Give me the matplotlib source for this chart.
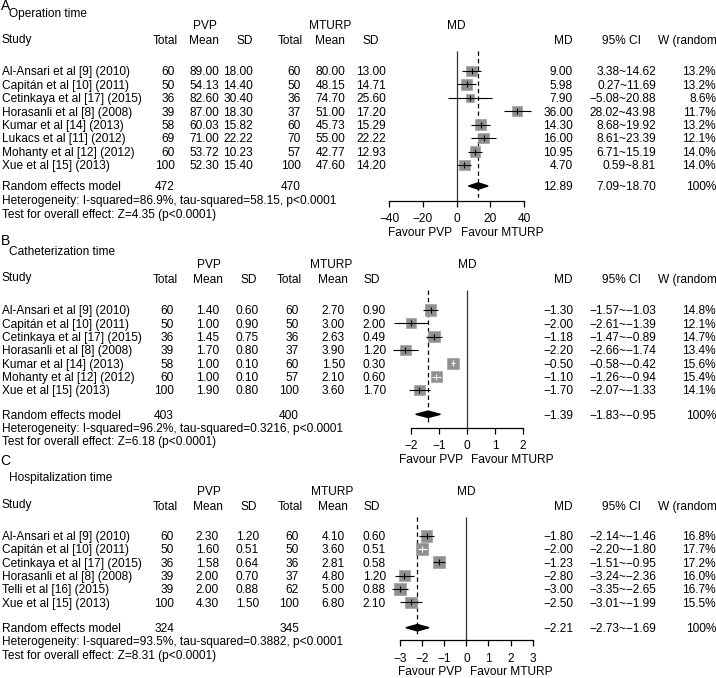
import numpy as np
import matplotlib
matplotlib.use("Agg")
import matplotlib.pyplot as plt

plt.rcParams['font.family'] = ['Liberation Sans', 'DejaVu Sans']
FS = 8.6

# ---------------- DATA ----------------
# Panel A: Operation time
A_title = "Operation time"
A_studies = ["Al-Ansari et al [9] (2010)", "Capitán et al [10] (2011)", "Cetinkaya et al [17] (2015)",
             "Horasanli et al [8] (2008)", "Kumar et al [14] (2013)", "Lukacs et al [11] (2012)",
             "Mohanty et al [12] (2012)", "Xue et al [15] (2013)"]
A_pvp_n = [60, 50, 36, 39, 58, 69, 60, 100]
A_pvp_mean = [89.00, 54.13, 82.60, 87.00, 60.03, 71.00, 53.72, 52.30]
A_pvp_sd = [18.00, 14.40, 30.40, 18.30, 15.82, 22.22, 10.23, 15.40]
A_mt_n = [60, 50, 36, 37, 60, 70, 57, 100]
A_mt_mean = [80.00, 48.15, 74.70, 51.00, 45.73, 55.00, 42.77, 47.60]
A_mt_sd = [13.00, 14.71, 25.60, 17.20, 15.29, 22.22, 12.93, 14.20]
A_md = [9.00, 5.98, 7.90, 36.00, 14.30, 16.00, 10.95, 4.70]
A_lo = [3.38, 0.27, -5.08, 28.02, 8.68, 8.61, 6.71, 0.59]
A_hi = [14.62, 11.69, 20.88, 43.98, 19.92, 23.39, 15.19, 8.81]
A_w = [13.2, 13.2, 8.6, 11.7, 13.2, 12.1, 14.0, 14.0]
A_sum = [12.89, 7.09, 18.70]
A_tot = [472, 470]
A_het = "Heterogeneity: I-squared=86.9%, tau-squared=58.15, p<0.0001"
A_test = "Test for overall effect: Z=4.35 (p<0.0001)"
A_ticks = [-40, -20, 0, 20, 40]

# Panel B: Catheterization time
B_title = "Catheterization time"
B_studies = ["Al-Ansari et al [9] (2010)", "Capitán et al [10] (2011)", "Cetinkaya et al [17] (2015)",
             "Horasanli et al [8] (2008)", "Kumar et al [14] (2013)", "Mohanty et al [12] (2012)",
             "Xue et al [15] (2013)"]
B_pvp_n = [60, 50, 36, 39, 58, 60, 100]
B_pvp_mean = [1.40, 1.00, 1.45, 1.70, 1.00, 1.00, 1.90]
B_pvp_sd = [0.60, 0.90, 0.75, 0.80, 0.10, 0.10, 0.80]
B_mt_n = [60, 50, 36, 37, 60, 57, 100]
B_mt_mean = [2.70, 3.00, 2.63, 3.90, 1.50, 2.10, 3.60]
B_mt_sd = [0.90, 2.00, 0.49, 1.20, 0.30, 0.60, 1.70]
B_md = [-1.30, -2.00, -1.18, -2.20, -0.50, -1.10, -1.70]
B_lo = [-1.57, -2.61, -1.47, -2.66, -0.58, -1.26, -2.07]
B_hi = [-1.03, -1.39, -0.89, -1.74, -0.42, -0.94, -1.33]
B_w = [14.8, 12.1, 14.7, 13.4, 15.6, 15.4, 14.1]
B_sum = [-1.39, -1.83, -0.95]
B_tot = [403, 400]
B_het = "Heterogeneity: I-squared=96.2%, tau-squared=0.3216, p<0.0001"
B_test = "Test for overall effect: Z=6.18 (p<0.0001)"
B_ticks = [-2, -1, 0, 1, 2]

# Panel C: Hospitalization time
C_title = "Hospitalization time"
C_studies = ["Al-Ansari et al [9] (2010)", "Capitán et al [10] (2011)", "Cetinkaya et al [17] (2015)",
             "Horasanli et al [8] (2008)", "Telli et al [16] (2015)", "Xue et al [15] (2013)"]
C_pvp_n = [60, 50, 36, 39, 39, 100]
C_pvp_mean = [2.30, 1.60, 1.58, 2.00, 2.00, 4.30]
C_pvp_sd = [1.20, 0.51, 0.64, 0.70, 0.88, 1.50]
C_mt_n = [60, 50, 36, 37, 62, 100]
C_mt_mean = [4.10, 3.60, 2.81, 4.80, 5.00, 6.80]
C_mt_sd = [0.60, 0.51, 0.58, 1.20, 0.88, 2.10]
C_md = [-1.80, -2.00, -1.23, -2.80, -3.00, -2.50]
C_lo = [-2.14, -2.20, -1.51, -3.24, -3.35, -3.01]
C_hi = [-1.46, -1.80, -0.95, -2.36, -2.65, -1.99]
C_w = [16.8, 17.7, 17.2, 16.0, 16.7, 15.5]
C_sum = [-2.21, -2.73, -1.69]
C_tot = [324, 345]
C_het = "Heterogeneity: I-squared=93.5%, tau-squared=0.3882, p<0.0001"
C_test = "Test for overall effect: Z=8.31 (p<0.0001)"
C_ticks = [-3, -2, -1, 0, 1, 2, 3]

# ---------------- LAYOUT ----------------
W, H = 716, 678
fig = plt.figure(figsize=(W / 100, H / 100), dpi=100)


def fx(x):
    return x / W


def fy(y):
    return 1 - y / H


def txt(x, yc, s, ha='left', size=FS, **kw):
    # yc is the centre of the capitals (pixels from top)
    fig.text(fx(x), fy(yc + 0.358 * size * 100 / 72), s, ha=ha, va='baseline',
             fontsize=size, **kw)


def f2(v):
    return f"{v:.2f}".replace('-', '\u2212')


def ci(lo, hi):
    return f2(lo) + "~" + f2(hi)


def panel(letter, title, studies, pn, pm, ps, mn, mm, msd, md, lo, hi, w, summ, tot,
          het, test, ticks, L):
    # letter and title
    fig.text(fx(L['letter_x']), fy(L['letter_base']), letter, fontsize=10,
             ha='left', va='baseline')
    txt(9, L['title'], title)
    # group headers
    txt(L['pvp_c'], L['group'], "PVP", ha='center')
    txt(L['mt_c'], L['group'], "MTURP", ha='center')
    txt((L['ax0'] + L['ax1']) / 2, L['group'], "MD", ha='center')
    # column headers
    txt(2, L['study_h'], "Study")
    hx = L['hdr']
    for x, s in zip(hx, ["Total", "Mean", "SD", "Total", "Mean", "SD"]):
        txt(x, L['head'], s, ha='right')
    txt(573, L['head'], "MD", ha='right')
    txt(621, L['head'], "95% CI", ha='center')
    txt(658, L['head'], "W (random)", ha='left')
    # rows
    vx = L['val']
    n = len(studies)
    rows = [L['row0'] + i * L['dy'] for i in range(n)]
    for i in range(n):
        y = rows[i]
        txt(2, y, studies[i])
        txt(vx[0], y, str(pn[i]), ha='right')
        txt(vx[1], y, f2(pm[i]), ha='right')
        txt(vx[2], y, f2(ps[i]), ha='right')
        txt(vx[3], y, str(mn[i]), ha='right')
        txt(vx[4], y, f2(mm[i]), ha='right')
        txt(vx[5], y, f2(msd[i]), ha='right')
        txt(573, y, f2(md[i]), ha='right')
        txt(656, y, ci(lo[i], hi[i]), ha='right')
        txt(716, y, f"{w[i]:.1f}%", ha='right')
    ry = L['rand']
    txt(2, ry, "Random effects model")
    txt(vx[0], ry, str(tot[0]), ha='right')
    txt(vx[3], ry, str(tot[1]), ha='right')
    txt(573, ry, f2(summ[0]), ha='right')
    txt(656, ry, ci(summ[1], summ[2]), ha='right')
    txt(716, ry, "100%", ha='right')
    txt(2, L['het'], het)
    txt(2, L['test'], test)

    # forest axes
    x0, x1, top, axy = L['ax0'], L['ax1'], L['top'], L['axis']
    ax = fig.add_axes([fx(x0), fy(axy), fx(x1) - fx(x0), (axy - top) / H])
    ax.set_facecolor('none')
    ax.set_xlim(ticks[0], ticks[-1])
    ax.set_ylim(axy, top)
    for sp in ['top', 'right', 'left']:
        ax.spines[sp].set_visible(False)
    ax.spines['bottom'].set_linewidth(0.9)
    ax.set_yticks([])
    ax.set_xticks(ticks)
    ax.tick_params(axis='x', length=4, width=0.9, labelsize=FS, pad=5.2, direction='out')
    ppu = (x1 - x0) / (ticks[-1] - ticks[0])
    # zero line and summary dashed line
    ax.vlines(0, top, axy, color='#333333', lw=0.9)
    ax.vlines(summ[0], top, axy - 4, color='black', lw=0.9, linestyles=(0, (3.5, 2.5)))
    # squares
    sides = [2.9 * np.sqrt(wi) for wi in w]
    ax.scatter(md, rows, marker='s', s=[(sd * 0.72) ** 2 for sd in sides],
               color='#909090', edgecolor='#a0a0a0', linewidth=0.5, zorder=3, clip_on=False)
    for i in range(n):
        inside = (hi[i] - lo[i]) * ppu < sides[i]
        c = 'white' if inside else 'black'
        ax.hlines(rows[i], lo[i], hi[i], color=c, lw=0.8, zorder=4, clip_on=False)
        ax.plot([md[i]], [rows[i]], marker='|', ms=4.2, mew=0.8, color=c, zorder=5,
                clip_on=False)
    # diamond
    hh = 3.2
    ax.fill([summ[1], summ[0], summ[2], summ[0]], [ry, ry - hh, ry, ry + hh],
            color='black', zorder=4, clip_on=False)
    # favour labels
    zx = x0 + (0 - ticks[0]) * ppu
    txt(zx - 4, L['fav'], "Favour PVP", ha='right')
    txt(zx + 4, L['fav'], "Favour MTURP", ha='left')


LA = dict(letter_x=0.5, letter_base=10.5, title=12.5, group=24.7, study_h=38.5, head=40,
          row0=71, dy=13.43, rand=186, het=200, test=213.3,
          ax0=389, ax1=524, top=51, axis=200.7, fav=232,
          hdr=[178, 219, 253, 303, 345, 379], val=[175, 219, 253, 301, 345, 386],
          pvp_c=204.5, mt_c=330.5)
LB = dict(letter_x=0.5, letter_base=245, title=250.5, group=263.3, study_h=276.7, head=279,
          row0=310, dy=13.33, rand=414.3, het=427.7, test=441,
          ax0=411, ax1=523, top=290, axis=427.7, fav=458.7,
          hdr=[178, 223, 257, 302, 348, 380], val=[174, 219, 259, 299, 345, 386],
          pvp_c=208.5, mt_c=331)
LC = dict(letter_x=0.5, letter_base=465, title=476.5, group=490.7, study_h=504, head=506,
          row0=535.7, dy=13.33, rand=627.7, het=641, test=654.3,
          ax0=400, ax1=532.7, top=516.7, axis=640, fav=671,
          hdr=[178, 223, 257, 303, 348, 380], val=[174, 219, 259, 299, 345, 386],
          pvp_c=208.5, mt_c=332)

panel("A", A_title, A_studies, A_pvp_n, A_pvp_mean, A_pvp_sd, A_mt_n, A_mt_mean, A_mt_sd,
      A_md, A_lo, A_hi, A_w, A_sum, A_tot, A_het, A_test, A_ticks, LA)
panel("B", B_title, B_studies, B_pvp_n, B_pvp_mean, B_pvp_sd, B_mt_n, B_mt_mean, B_mt_sd,
      B_md, B_lo, B_hi, B_w, B_sum, B_tot, B_het, B_test, B_ticks, LB)
panel("C", C_title, C_studies, C_pvp_n, C_pvp_mean, C_pvp_sd, C_mt_n, C_mt_mean, C_mt_sd,
      C_md, C_lo, C_hi, C_w, C_sum, C_tot, C_het, C_test, C_ticks, LC)

fig.savefig("out.png", dpi=100)
